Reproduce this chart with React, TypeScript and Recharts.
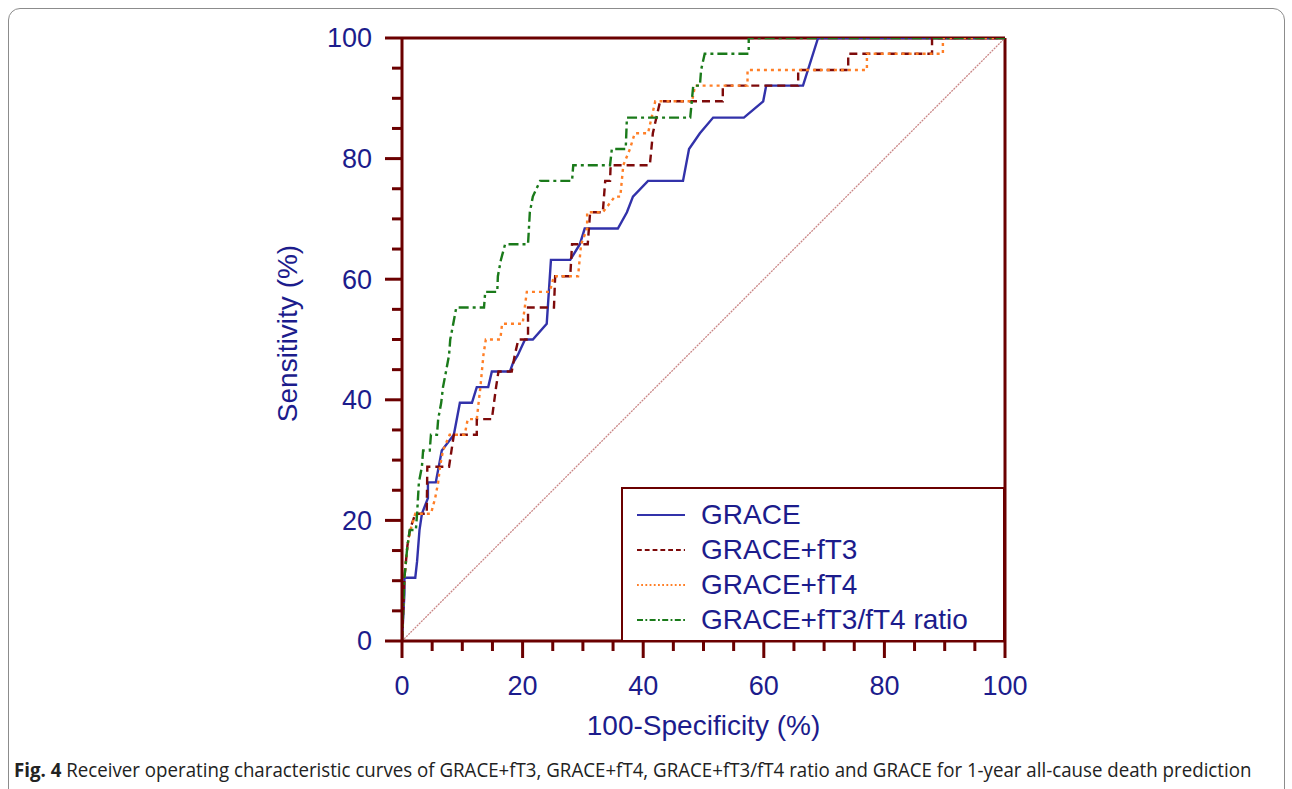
import React from "react";
import { LineChart, Line, XAxis, YAxis, ReferenceLine } from "recharts";

// ROC curves: [100-specificity, sensitivity] in %
const graceCurve = [
  [0, 0], [0.4, 7.9], [0.4, 10.5], [2.2, 10.5], [2.5, 13.2], [2.9, 18.4], [3.3, 21.1],
  [4.3, 23.7], [4.3, 26.3], [5.6, 26.3], [6.6, 31.6], [8.6, 34.2], [9.6, 39.5],
  [11.6, 39.5], [12.4, 42.1], [14.3, 42.1], [14.9, 44.7], [17.9, 44.7], [18.4, 46.1],
  [19.2, 47.4], [20.4, 50.0], [21.7, 50.0], [24.0, 52.6], [24.7, 63.2], [27.9, 63.2],
  [29.5, 65.8], [30.3, 68.4], [35.8, 68.4], [37.3, 71.1], [38.3, 73.7], [40.8, 76.3],
  [46.6, 76.3], [47.6, 81.6], [49.4, 84.2], [51.6, 86.8], [56.7, 86.8], [59.9, 89.5],
  [60.4, 92.1], [66.5, 92.1], [69.0, 100], [100, 100],
];

const fT3Curve = [
  [0, 0], [0.4, 10.5], [0.9, 15.8], [1.3, 18.4], [2.2, 21.1], [4.1, 21.1], [4.2, 28.9],
  [7.8, 28.9], [8.6, 34.2], [12.4, 34.2], [12.4, 36.8], [14.9, 36.8], [15.6, 42.1],
  [16.0, 44.7], [18.2, 44.7], [18.7, 47.4], [19.3, 50.0], [20.9, 50.0], [20.9, 55.3],
  [25.2, 55.3], [25.4, 60.5], [27.9, 60.5], [28.2, 65.8], [30.8, 65.8], [31.2, 71.1],
  [33.3, 71.1], [33.7, 76.3], [34.5, 76.3], [34.6, 78.9], [41.1, 78.9], [41.6, 84.2],
  [42.8, 89.5], [53.2, 89.5], [53.2, 92.1], [65.7, 92.1], [65.7, 94.7], [74.0, 94.7],
  [74.0, 97.4], [87.9, 97.4], [87.9, 100], [100, 100],
];

const fT4Curve = [
  [0, 0], [0.4, 10.5], [0.9, 15.8], [1.4, 18.4], [2.2, 21.1], [4.8, 21.1], [5.5, 23.7],
  [6.0, 26.3], [6.3, 28.9], [6.8, 31.6], [7.9, 34.2], [10.4, 34.2], [10.9, 36.8],
  [12.4, 36.8], [13.0, 42.1], [13.5, 47.4], [13.9, 50.0], [16.3, 50.0], [16.6, 52.6],
  [20.0, 52.6], [20.7, 57.9], [24.5, 57.9], [25.2, 60.5], [29.2, 60.5], [29.7, 65.8],
  [30.7, 68.4], [30.7, 71.1], [33.3, 71.1], [35.3, 73.7], [36.2, 73.7], [36.7, 78.9],
  [37.8, 81.6], [38.6, 84.2], [40.8, 84.2], [42.0, 89.5], [48.1, 89.5], [48.6, 92.1],
  [57.3, 92.1], [57.3, 94.7], [77.1, 94.7], [77.1, 97.4], [89.7, 97.4], [89.7, 100],
  [100, 100],
];

const ratioCurve = [
  [0, 0], [0.4, 10.5], [0.9, 15.8], [1.3, 18.4], [2.3, 18.4], [2.5, 21.1], [2.8, 26.3],
  [3.3, 28.9], [3.5, 31.6], [4.6, 31.6], [4.8, 34.2], [5.8, 34.2], [6.0, 36.8],
  [6.5, 39.5], [6.8, 42.1], [7.3, 44.7], [7.8, 47.4], [8.0, 50.0], [8.5, 52.6],
  [9.0, 55.3], [13.6, 55.3], [13.8, 57.9], [15.8, 57.9], [15.9, 60.5], [16.4, 63.2],
  [17.1, 65.8], [20.9, 65.8], [21.2, 71.1], [21.7, 73.7], [22.9, 76.3], [28.2, 76.3],
  [28.4, 78.9], [34.5, 78.9], [34.8, 81.6], [37.1, 81.6], [37.3, 86.8], [47.8, 86.8],
  [48.3, 92.1], [49.4, 92.1], [49.6, 94.7], [50.2, 97.4], [57.5, 97.4], [57.5, 100],
  [100, 100],
];

const chanceLine = [[0, 0], [100, 100]];

const axisTicks = [0, 5, 10, 15, 20, 25, 30, 35, 40, 45, 50, 55, 60, 65, 70, 75, 80, 85, 90, 95, 100];

const AXIS = "#6b0000";
const TEXT = "#1c1c8c";
const FONT = "'Liberation Sans', Arial, sans-serif";

const toPoints = (curve: number[][]) => curve.map(([x, y]) => ({ x, y }));

const series = [
  { name: "GRACE", data: graceCurve, color: "#3232aa", dash: undefined },
  { name: "GRACE+fT3", data: fT3Curve, color: "#7d0a0a", dash: "8 5" },
  { name: "GRACE+fT4", data: fT4Curve, color: "#ff7f27", dash: "3 4" },
  { name: "GRACE+fT3/fT4 ratio", data: ratioCurve, color: "#1a7a1a", dash: "10 4 3 4" },
];

const XTick = (props: any) => {
  const { x, y, payload } = props;
  const major = payload.value % 20 === 0;
  return (
    <g>
      <line x1={x} y1={y} x2={x} y2={y + (major ? 17 : 10)} stroke={AXIS} strokeWidth={3} />
      {major && (
        <text x={x} y={y + 45} dy="0.35em" textAnchor="middle" fill={TEXT} fontSize={27} fontFamily={FONT}>
          {payload.value}
        </text>
      )}
    </g>
  );
};

const YTick = (props: any) => {
  const { x, y, payload } = props;
  const major = payload.value % 20 === 0;
  return (
    <g>
      <line x1={x} y1={y} x2={x - (major ? 17 : 10)} y2={y} stroke={AXIS} strokeWidth={3} />
      {major && (
        <text x={x - 30} y={y} dy="0.35em" textAnchor="end" fill={TEXT} fontSize={27} fontFamily={FONT}>
          {payload.value}
        </text>
      )}
    </g>
  );
};

const Legend = () => (
  <div
    style={{
      position: "absolute",
      left: 621,
      top: 487,
      width: 380,
      height: 151,
      border: `2px solid ${AXIS}`,
      background: "#fff",
      fontFamily: FONT,
      fontSize: 28,
      color: TEXT,
    }}
  >
    {series.map((s, i) => (
      <div key={s.name} style={{ position: "absolute", left: 14, top: 9 + i * 35, height: 34, display: "flex", alignItems: "center" }}>
        <svg width={48} height={10} style={{ marginRight: 16 }}>
          <line x1={0} y1={5} x2={48} y2={5} stroke={s.color} strokeWidth={2} strokeDasharray={s.dash ? s.dash.split(" ").map((d) => Number(d) * 0.6).join(" ") : undefined} />
        </svg>
        <span>{s.name}</span>
      </div>
    ))}
  </div>
);

export default function App() {
  return (
    <div style={{ position: "relative", width: 1292, height: 789, background: "#fff", overflow: "hidden" }}>
      <style>{"body{margin:0}"}</style>
      <div
        style={{
          position: "absolute",
          left: 8,
          top: 8,
          width: 1275,
          height: 800,
          border: "1px solid #8c8c8c",
          borderRadius: 12,
        }}
      />
      <div style={{ position: "absolute", left: 0, top: 0 }}>
        <LineChart width={1292} height={789} margin={{ top: 38, right: 287, bottom: 48, left: 272 }}>
          <XAxis
            type="number"
            dataKey="x"
            domain={[0, 100]}
            ticks={axisTicks}
            interval={0}
            allowDataOverflow
            height={100}
            tickSize={0}
            tickMargin={0}
            tickLine={false}
            tick={<XTick />}
            axisLine={{ stroke: AXIS, strokeWidth: 3 }}
            label={{
              content: (p: any) => (
                <text
                  x={p.viewBox.x + p.viewBox.width / 2}
                  y={p.viewBox.y + 84}
                  dy="0.35em"
                  textAnchor="middle"
                  fill={TEXT}
                  fontSize={28}
                  fontFamily={FONT}
                >
                  100-Specificity (%)
                </text>
              ),
            }}
          />
          <YAxis
            type="number"
            dataKey="y"
            domain={[0, 100]}
            ticks={axisTicks}
            interval={0}
            allowDataOverflow
            width={130}
            tickSize={0}
            tickMargin={0}
            tickLine={false}
            tick={<YTick />}
            axisLine={{ stroke: AXIS, strokeWidth: 3 }}
            label={{
              content: (p: any) => {
                const cx = p.viewBox.x + 15;
                const cy = p.viewBox.y + p.viewBox.height / 2 - 6;
                return (
                  <text
                    x={cx}
                    y={cy}
                    dy="0.35em"
                    transform={`rotate(-90 ${cx} ${cy})`}
                    textAnchor="middle"
                    fill={TEXT}
                    fontSize={28}
                    fontFamily={FONT}
                  >
                    Sensitivity (%)
                  </text>
                );
              },
            }}
          />
          <ReferenceLine y={100} stroke={AXIS} strokeWidth={3} />
          <ReferenceLine x={100} stroke={AXIS} strokeWidth={3} />
          <Line
            data={toPoints(chanceLine)}
            dataKey="y"
            type="linear"
            stroke="#c98585"
            strokeWidth={1.3}
            strokeDasharray="2 1"
            dot={false}
            isAnimationActive={false}
          />
          {series.map((s) => (
            <Line
              key={s.name}
              name={s.name}
              data={toPoints(s.data)}
              dataKey="y"
              type="linear"
              stroke={s.color}
              strokeWidth={2.4}
              strokeDasharray={s.dash}
              dot={false}
              isAnimationActive={false}
            />
          ))}
        </LineChart>
      </div>
      <Legend />
      <div
        style={{
          position: "absolute",
          left: 14,
          top: 756,
          fontFamily: "'Open Sans', sans-serif",
          fontSize: 20,
          color: "#222",
          whiteSpace: "nowrap",
          transform: "scaleX(0.935)",
          transformOrigin: "left center",
        }}
      >
        <b>Fig. 4</b> Receiver operating characteristic curves of GRACE+fT3, GRACE+fT4, GRACE+fT3/fT4 ratio and GRACE for 1-year all-cause death prediction
      </div>
    </div>
  );
}
